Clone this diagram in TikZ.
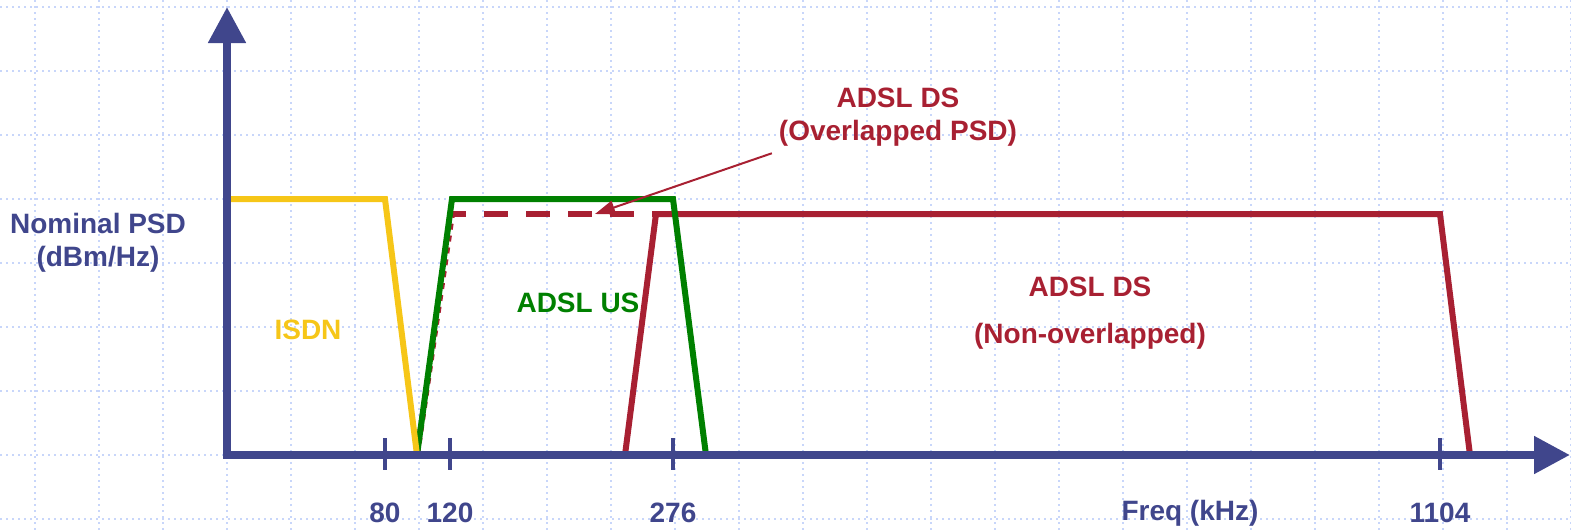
\documentclass[tikz,border=0pt]{standalone}
\usepackage{fontspec}
\setmainfont{Liberation Sans}
\usetikzlibrary{arrows.meta}

\definecolor{axe}{RGB}{64,70,140}
\definecolor{isdn}{RGB}{246,198,24}
\definecolor{us}{RGB}{0,128,0}
\definecolor{ds}{RGB}{168,32,50}
\definecolor{grille}{RGB}{200,214,250}

\begin{document}
\begin{tikzpicture}[x=0.5pt,y=-0.5pt,
  txt/.style={font=\fontsize{14}{16.5}\selectfont\bfseries,align=center},
  courbe/.style={line width=3pt,line join=miter},
  grid line/.style={grille,line width=1.2pt,dash pattern=on 1.2pt off 1.8pt}]
 \useasboundingbox (0,0) rectangle (1571,531);
 % grille pointillee
 \foreach \y in {7,71,...,519} \draw[grid line] (0,\y) -- (1571,\y);
 \foreach \x in {35,99,...,1571} \draw[grid line] (\x,0) -- (\x,531);
 % ADSL DS (recouvrement)
 \draw[ds,courbe,dashed] (417,455) -- (452,214);
 \draw[ds,courbe,dash pattern=on 12pt off 9pt,dash phase=5pt] (452,214) -- (656,214);
 % ADSL DS
 \draw[ds,courbe] (625,455) -- (656,214) -- (1440,214) -- (1470,455);
 % ADSL US
 \draw[us,courbe] (417,455) -- (452,199) -- (673,199) -- (706,455);
 % ISDN
 \draw[isdn,courbe] (227,199) -- (385,199) -- (417,455);
 % axes
 \coordinate (O) at (227,455);
 \coordinate (ytip) at (227,7);
 \coordinate (xtip) at (1570,455);
 \draw[axe,line width=4pt,line join=miter,
       {Triangle[length=18pt,width=18pt]}-{Triangle[length=18pt,width=18pt]}]
   (ytip) -- (O) -- (xtip);
 % graduations
 \foreach \f/\x in {80/385,120/450,276/673,1104/1440}{
   \draw[axe,line width=2pt] (\x,438) -- (\x,470);
   \node[txt,axe] (f\f) at (\x,513) {\f};
 }
 % textes
 \node[txt,axe] (psd) at (98,243) {Nominal PSD\\(dBm/Hz)};
 \node[txt,axe] (freq) at (1190,513) {Freq (kHz)};
 \node[txt,isdn] (lisdn) at (308,330) {ISDN};
 \node[txt,us] (lus) at (578,303) {ADSL US};
 \node[txt,ds] (lds) at (1090,313) {ADSL DS\\[7pt](Non-overlapped)};
 \node[txt,ds] (ovl) at (898,117) {ADSL DS\\(Overlapped PSD)};
 % fleche
 \coordinate (cible) at (595,214);
 \draw[ds,line width=1pt,-{Triangle[length=10pt,width=7pt]}]
   (ovl.south west) -- (cible);
\end{tikzpicture}
\end{document}
